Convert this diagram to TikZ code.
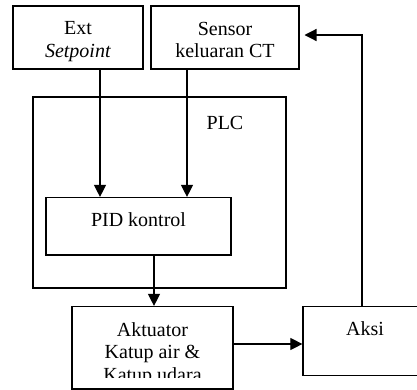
\documentclass[tikz,border=0pt]{standalone}
\usepackage{fontspec}
\setmainfont{Liberation Serif}
\usetikzlibrary{arrows.meta}
\begin{document}
\begin{tikzpicture}[x=1bp,y=-1bp,
  box/.style={draw,line width=1.2bp,inner sep=0pt},
  txt/.style={anchor=base,inner sep=0pt,font=\fontsize{20bp}{22.5bp}\selectfont,align=center},
  arr/.style={line width=1.2bp,-{Triangle[length=12bp,width=12bp]}}]
\path[use as bounding box] (0,0) rectangle (417,390);
\clip (0,0) rectangle (417,390);
% boxes
\node[box,minimum width=130bp,minimum height=63bp] (ext) at (78,37.5) {};
\node[box,minimum width=148bp,minimum height=63bp] (sensor) at (225,37.5) {};
\node[box,minimum width=253bp,minimum height=191bp] (plc) at (159.5,192.5) {};
\node[box,minimum width=185bp,minimum height=57.5bp] (pid) at (138.5,226.25) {};
\node[box,minimum width=161bp,minimum height=82.5bp] (akt) at (152.5,347.75) {};
\node[box,minimum width=127bp,minimum height=69.2bp] (aksi) at (366.5,341.1) {};
% texts (base anchor = baseline of the last line)
\node[txt] (text1) at (78,57) {Ext\\\textit{Setpoint}};
\node[txt] (text2) at (225,57.5) {Sensor\\keluaran CT};
\node[txt] (text3) at (225,129) {PLC};
\node[txt] (text4) at (138.5,226) {PID kontrol};
\begin{scope}
\clip (72,306.5) rectangle (233,377);
\node[txt] (text5) at (152.5,381) {Aktuator\\Katup air \&\\Katup udara};
\end{scope}
\node[txt] (text6) at (365,335.7) {Aksi};
% connectors
\coordinate (c1) at (100,0);
\coordinate (c2) at (187,0);
\coordinate (c3) at (154,0);
\coordinate (c4) at (0,344);
\coordinate (fb) at (362,35);
\coordinate (fbend) at (304.5,35);
\draw[arr] (ext.south -| c1) -- (pid.north -| c1);
\draw[arr] (sensor.south -| c2) -- (pid.north -| c2);
\draw[arr] (pid.south -| c3) -- (akt.north -| c3);
\draw[arr] (akt.east |- c4) -- (aksi.west |- c4);
\draw[arr] (aksi.north -| fb) -- (fb) -- (fbend);
\end{tikzpicture}
\end{document}
